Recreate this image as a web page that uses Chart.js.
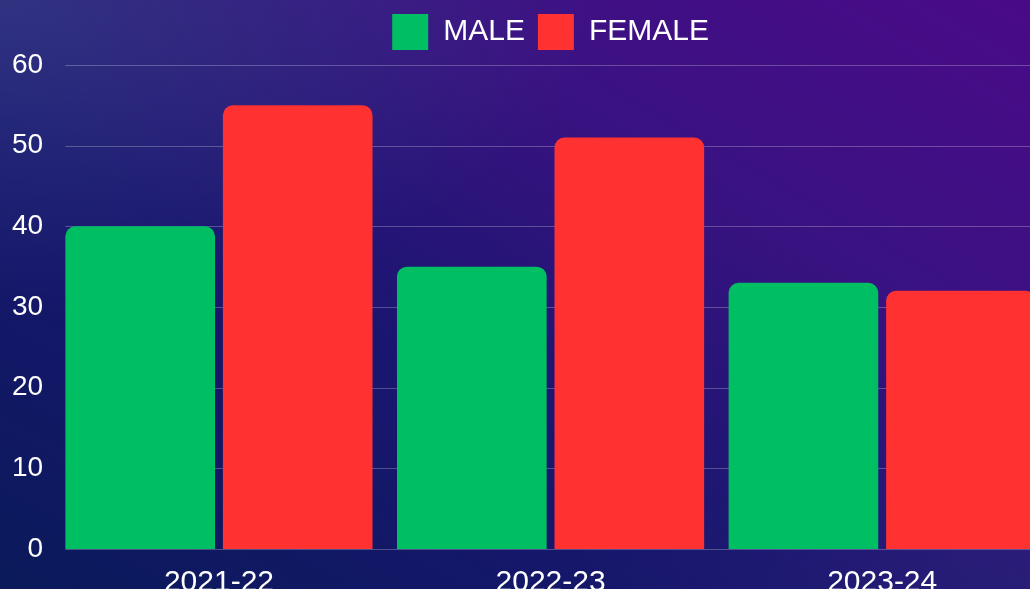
<!DOCTYPE html>
<html>
<head>
<meta charset="utf-8">
<script src="https://cdn.jsdelivr.net/npm/chart.js@4"></script>
<style>
  html, body { margin: 0; padding: 0; width: 1030px; height: 589px; overflow: hidden; }
  body {
    background:
      radial-gradient(ellipse 600px 300px at 0% 0%, rgba(60,80,140,0.5), rgba(60,80,140,0) 100%),
      radial-gradient(ellipse 450px 200px at 100% 100%, rgba(45,40,120,0.45), rgba(45,40,120,0) 100%),
      linear-gradient(to top right, #0a1a5a 0%, #1a1670 40%, #3a1282 70%, #4a0a88 100%);
  }
  #wrap { position: absolute; left: 0; top: 0; width: 1050px; height: 617px; }
</style>
</head>
<body>
<div id="wrap"><canvas id="c"></canvas></div>
<script>
const categories = ["2021-22", "2022-23", "2023-24"];
const maleValues = [40, 35, 33];
const femaleValues = [55, 51, 32];
const seriesNames = ["MALE", "FEMALE"];
const yTicks = [0, 10, 20, 30, 40, 50, 60];

const font = "'Liberation Sans', Arial, Helvetica, sans-serif";

const legendGap = {
  id: 'legendGap',
  beforeInit(chart) {
    const origFit = chart.legend.fit;
    chart.legend.fit = function () {
      origFit.call(this);
      this.height += 5;
    };
  }
};

// horizontal grid lines starting at the first bar's left edge
const gridFromBars = {
  id: 'gridFromBars',
  beforeDatasetsDraw(chart) {
    const meta = chart.getDatasetMeta(0);
    const first = meta.data[0];
    if (!first) return;
    const props = first.getProps(['x', 'width'], true);
    const startX = props.x - props.width / 2;
    const yScale = chart.scales.y;
    const ctx = chart.ctx;
    ctx.save();
    ctx.strokeStyle = 'rgba(255,255,255,0.25)';
    ctx.lineWidth = 1;
    yScale.ticks.forEach(t => {
      const y = Math.round(yScale.getPixelForValue(t.value)) + 0.5;
      ctx.beginPath();
      ctx.moveTo(startX, y);
      ctx.lineTo(chart.chartArea.right, y);
      ctx.stroke();
    });
    ctx.restore();
  }
};

new Chart(document.getElementById('c'), {
  type: 'bar',
  plugins: [legendGap, gridFromBars],
  data: {
    labels: categories,
    datasets: [
      { label: seriesNames[0], data: maleValues, backgroundColor: '#00bf63', borderRadius: 10, borderSkipped: 'start',
        categoryPercentage: 0.95, barPercentage: 0.95 },
      { label: seriesNames[1], data: femaleValues, backgroundColor: '#ff3131', borderRadius: 10, borderSkipped: 'start',
        categoryPercentage: 0.95, barPercentage: 0.95 }
    ]
  },
  options: {
    responsive: true,
    maintainAspectRatio: false,
    animation: false,
    layout: { padding: { left: 2, right: 2, top: 1, bottom: 0 } },
    plugins: {
      tooltip: { enabled: false },
      legend: {
        position: 'top',
        fullSize: false,
        labels: {
          color: '#ffffff',
          boxWidth: 36,
          boxHeight: 36,
          padding: 13,
          font: { family: font, size: 30 }
        }
      }
    },
    scales: {
      x: {
        grid: { display: false, drawTicks: false },
        border: { display: false },
        ticks: { color: '#ffffff', padding: 16, font: { family: font, size: 30 } }
      },
      y: {
        min: yTicks[0],
        max: yTicks[yTicks.length - 1],
        afterBuildTicks: (scale) => { scale.ticks = yTicks.map(v => ({ value: v })); },
        grid: { display: false, drawTicks: false },
        border: { display: false },
        ticks: { color: '#ffffff', padding: 10, font: { family: font, size: 28 } }
      }
    }
  }
});
</script>
</body>
</html>
